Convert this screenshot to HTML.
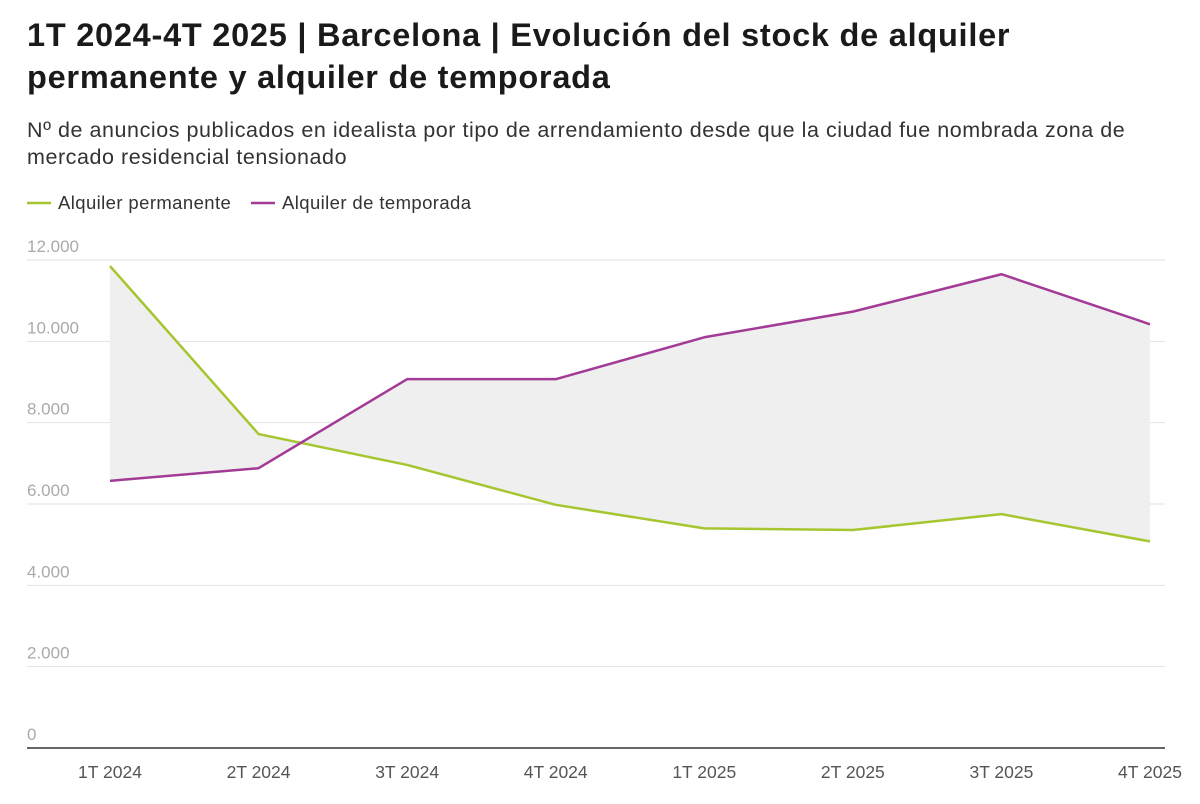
<!DOCTYPE html>
<html><head><meta charset="utf-8"><style>
body{margin:0;background:#fff;font-family:"Liberation Sans",sans-serif;}
#wrap{position:relative;width:1200px;height:804px;overflow:hidden}
h1{position:absolute;left:27px;top:14px;margin:0;font-size:32.5px;letter-spacing:0.75px;line-height:42px;font-weight:bold;color:#1a1a1a;width:1170px;white-space:nowrap}
.sub{position:absolute;left:27px;top:117px;font-size:21.5px;letter-spacing:0.55px;line-height:27px;color:#333;width:1170px;white-space:nowrap}
svg{position:absolute;left:0;top:0}
</style></head><body>
<div id="wrap">
<h1>1T 2024-4T 2025 | Barcelona | Evolución del stock de alquiler<br>permanente y alquiler de temporada</h1>
<div class="sub">Nº de anuncios publicados en idealista por tipo de arrendamiento desde que la ciudad fue nombrada zona de<br>mercado residencial tensionado</div>
<svg id="chart" width="1200" height="804"></svg>
</div>
<script>
const categories=["1T 2024","2T 2024","3T 2024","4T 2024","1T 2025","2T 2025","3T 2025","4T 2025"];
const permanente=[11850,7720,6960,5980,5400,5360,5750,5080];
const temporada=[6570,6880,9070,9070,10100,10730,11650,10420];
const yTicks=[0,2000,4000,6000,8000,10000,12000];
const yTickLabels=["0","2.000","4.000","6.000","8.000","10.000","12.000"];
const NS="http://www.w3.org/2000/svg";
const svg=document.getElementById('chart');
const y=v=>748-v*(488/12000);
const x=i=>110+i*(1040/(categories.length-1));
function mk(t,a){const e=document.createElementNS(NS,t);for(const k in a)e.setAttribute(k,a[k]);svg.appendChild(e);return e;}
yTicks.forEach((v,i)=>{
  const l=mk('line',{x1:27,x2:1165,y1:y(v),y2:y(v),stroke:v===0?'#333':'#e2e2e2','stroke-width':v===0?1.5:1});
  
  
  const t=mk('text',{x:27,y:y(v)-8,'font-size':17,fill:'#aaa','font-family':'Liberation Sans, sans-serif'});
  t.textContent=yTickLabels[i];
  
  
});
categories.forEach((c,i)=>{
  const t=mk('text',{x:x(i),y:778,'font-size':17.5,fill:'#555','text-anchor':'middle','font-family':'Liberation Sans, sans-serif'});
  t.textContent=c;
  
  
});
let d=permanente.map((v,i)=>(i?'L':'M')+x(i)+','+y(v)).join('');
for(let i=temporada.length-1;i>=0;i--)d+='L'+x(i)+','+y(temporada[i]);
const area=mk('path',{d:d+'Z',fill:'#efefef'});


function line(arr,col,name){
  const p=mk('path',{d:arr.map((v,i)=>(i?'L':'M')+x(i)+','+y(v)).join(''),fill:'none',stroke:col,'stroke-width':2.5,'stroke-linejoin':'round'});
  
  
}
line(permanente,'#a5c630','line-permanente');
line(temporada,'#a23a96','line-temporada');
[[ '#a5c630','Alquiler permanente',27,'legend-permanente'],['#a23a96','Alquiler de temporada',251,'legend-temporada']].forEach(l=>{
  const s=mk('line',{x1:l[2],x2:l[2]+24,y1:203,y2:203,stroke:l[0],'stroke-width':2.5});
  
  
  const t=mk('text',{x:l[2]+31,y:209,'font-size':18.5,'letter-spacing':0.4,fill:'#333','font-family':'Liberation Sans, sans-serif'});
  t.textContent=l[1];
  
  
});
</script>
</body></html>
